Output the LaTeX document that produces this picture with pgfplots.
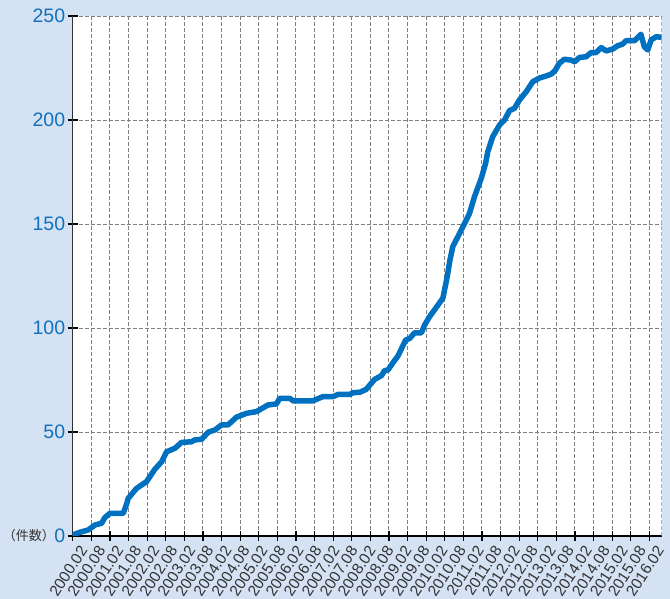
\documentclass[border=0pt]{standalone}
\usepackage{pgfplots}
\pgfplotsset{compat=1.18}
\usepackage{fontspec}
\setmainfont{Liberation Sans}
\newfontfamily\cjk{Noto Sans CJK JP}
\definecolor{bgblue}{RGB}{213,226,243}
\definecolor{lineblue}{RGB}{0,112,192}
\definecolor{tickblue}{RGB}{16,114,190}
\definecolor{gridgray}{RGB}{128,128,128}
\definecolor{labelgray}{RGB}{51,51,51}
\begin{document}
\begin{tikzpicture}[x=1pt,y=1pt]
\fill[bgblue] (0,0) rectangle (670,599);
\useasboundingbox (0,0) rectangle (670,599);
\begin{axis}[
  at={(72.7pt,63pt)}, anchor=south west,
  scale only axis, width=589pt, height=520pt,
  xmin=0, xmax=190, ymin=0, ymax=250,
  axis lines=left, axis line style={-},
  x axis line style={black, line width=1.6pt},
  y axis line style={labelgray, line width=1.4pt},
  axis background/.style={fill=white},
  xtick={0,6,...,186}, xticklabels={},
  extra x ticks={0,5.8125,...,186},
  extra x tick labels={2000.02,2000.08,2001.02,2001.08,2002.02,2002.08,2003.02,2003.08,2004.02,2004.08,2005.02,2005.08,2006.02,2006.08,2007.02,2007.08,2008.02,2008.08,2009.02,2009.08,2010.02,2010.08,2011.02,2011.08,2012.02,2012.08,2013.02,2013.08,2014.02,2014.08,2015.02,2015.08,2016.02},
  extra x tick style={grid=none, tick style={draw=none}},
  ytick={0,50,...,250},
  grid=major,
  major grid style={gridgray, dash pattern=on 4pt off 2pt, line width=0.9pt},
  tick align=center, major tick length=10pt,
  tick style={black, line width=1.2pt},
  /pgf/number format/assume math mode=true,
  yticklabel style={font=\fontsize{19.5}{22}\selectfont, text=tickblue, xshift=1pt},
  xticklabel style={font=\fontsize{15.5}{17}\selectfont, text=labelgray, inner sep=0pt,
     xshift=11pt, yshift=-6.5pt, rotate=57, anchor=east},
]
\addplot[lineblue, line width=5.5pt, line join=round, line cap=round] coordinates {
(0,0.5) (2.35,1.8) (5.0,2.9) (7.2,5.3) (9.3,6.1) (10.4,8.9) (12.0,10.9)
(16.3,10.9) (17.4,15.4) (17.9,18.1) (20.6,22.9) (23.8,26.1) (26.5,32.1)
(28.7,35.7) (30.3,40.5) (33.0,42.2) (35.1,45.0) (38.3,45.3) (39.4,46.2)
(41.6,46.5) (43.7,49.9) (45.9,51.0) (48.0,53.4) (50.1,53.4) (52.8,57.1)
(56.1,59.0) (59.3,59.8) (63.0,63.0) (65.7,63.5) (66.8,66.2) (70.0,66.2)
(71.1,65.0) (77.5,65.0) (80.7,67.0) (84.0,67.0) (85.6,68.1) (89.4,68.1)
(90.4,68.9) (92.6,69.1) (94.7,70.5) (96.3,73.4) (97.4,75.3) (99.6,77.1)
(100.6,79.5) (101.7,79.8) (103.3,83.3) (104.9,86.5) (107.4,94.2) (108.7,95.0)
(110.3,97.7) (112.5,97.7) (113.5,101.4) (115.1,105.4) (116.7,108.7)
(119.4,114.3) (120.5,122.3) (121.0,126.3) (121.6,131.9) (122.6,139.1)
(124.8,145.5) (126.4,150.3) (128.0,155.1) (129.6,163.1) (131.8,172.0)
(133.2,179.2) (133.9,184.8) (135.5,192.0) (137.7,197.6) (139.3,200.0)
(140.9,204.5) (142.5,205.6) (144.1,209.6) (146.3,213.6) (148.4,218.4)
(150.6,220.2) (152.8,221.2) (154.4,222.1) (155.7,224.0) (157.0,227.3)
(158.6,229.2) (160.8,228.8) (161.9,228.0) (163.5,230.1) (165.6,230.4)
(167.2,232.4) (168.8,232.4) (170.5,234.8) (172.1,233.2) (174.2,234.1)
(175.8,235.7) (177.4,236.5) (178.5,238.1) (181.2,238.1) (183.3,241.2)
(184.4,235.2) (185.5,233.7) (186.6,238.5) (188.2,240.0) (189.8,239.8)
};
\draw[gridgray, dash pattern=on 4pt off 2pt, line width=0.9pt] (rel axis cs:1,0) -- (rel axis cs:1,1);
\end{axis}
\node[anchor=east, text=labelgray, inner sep=0pt] at (55,63) {\cjk\fontsize{13}{15}\selectfont （件数）};
\end{tikzpicture}
\end{document}
